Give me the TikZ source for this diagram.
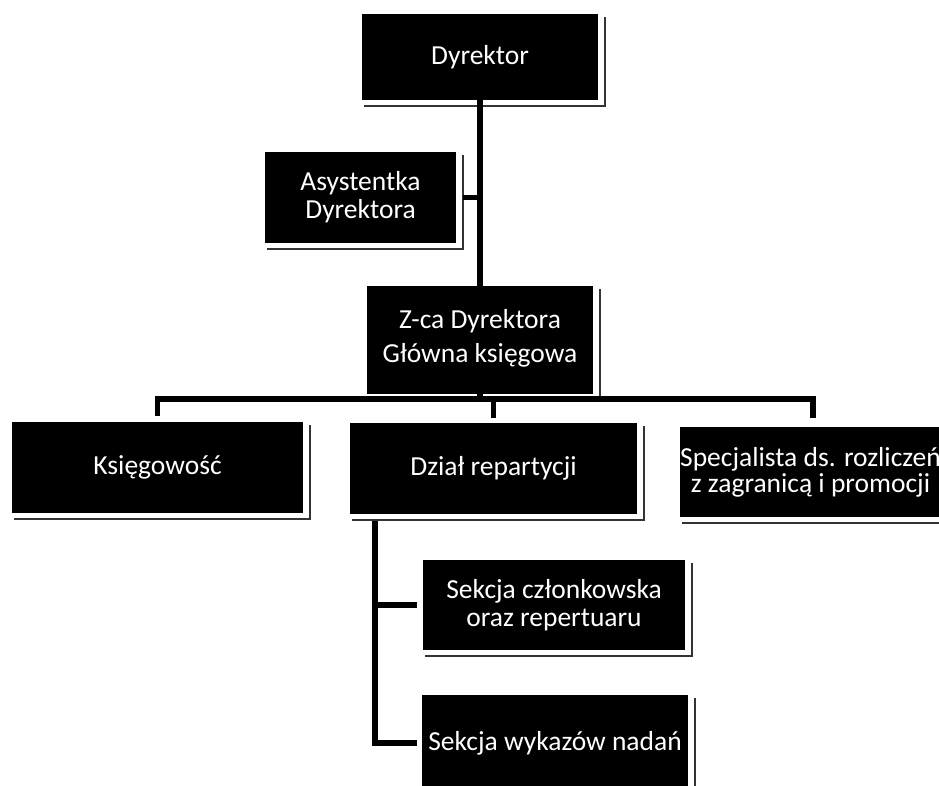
\documentclass[tikz,border=0pt]{standalone}
\usepackage{fontspec}
\setmainfont{Carlito}
\newcommand\myOrgFrame[1]{\draw[frame] ([xshift=7pt,yshift=-3pt]#1.north east) -- ([xshift=7pt,yshift=-6pt]#1.south east) -- ([xshift=2pt,yshift=-6pt]#1.south west);}
\begin{document}
\begin{tikzpicture}[x=1pt,y=-1pt,
  box/.style={rectangle, fill=black, text=white, inner sep=0pt, align=center,
    font=\fontsize{27.5}{28}\selectfont},
  frame/.style={draw=black!80, line width=1.6pt},
  conn/.style={draw=black, line width=5.5pt}]
\fill[white] (0,0) rectangle (939,786);
\useasboundingbox (0,0) rectangle (939,786);

\node[box,minimum width=236pt,minimum height=86pt] (dyr) at (480,57) {\raisebox{-4pt}{Dyrektor}};
\node[box,minimum width=191pt,minimum height=91pt] (asy) at (360.5,197.5) {Asystentka\\Dyrektora};
\node[box,minimum width=226pt,minimum height=108pt] (zca) at (480,340) {\raisebox{8pt}{\begin{tabular}{@{}c@{}}Z-ca Dyrektora\\[6pt]Główna księgowa\end{tabular}}};
\node[box,minimum width=291pt,minimum height=91pt] (ksi) at (157.5,467.5) {Księgowość};
\node[box,minimum width=287pt,minimum height=91pt] (dzi) at (493.5,468.5) {Dział repartycji};
\node[box,minimum width=257pt,minimum height=90pt] (spe) at (810.5,472) {Specjalista ds. rozliczeń\\[-2pt]z zagranicą i promocji};
\node[box,minimum width=262pt,minimum height=90pt] (sc1) at (554,605) {Sekcja członkowska\\oraz repertuaru};
\node[box,minimum width=266pt,minimum height=96pt] (sc2) at (555,743) {Sekcja wykazów nadań};

\myOrgFrame{dyr}
\myOrgFrame{asy}
\myOrgFrame{zca}
\myOrgFrame{ksi}
\myOrgFrame{dzi}
\myOrgFrame{sc1}
\myOrgFrame{sc2}
\draw[frame] ([yshift=-6pt]spe.south east) -- ([xshift=2pt,yshift=-6pt]spe.south west);

\coordinate (busy) at (0,399);
\coordinate (dvx) at (375,0);
\coordinate (rdx) at (813,0);

% trunk
\draw[conn] (dyr.south) -- (zca.north);
\draw[conn] ([xshift=7pt]asy.east) -- (asy.east -| dyr.south);
\draw[conn] (zca.south) -- (zca.south |- busy);
% bus
\draw[conn] ([yshift=6pt]ksi.north) -- (ksi.north |- busy) -- (rdx |- busy) -- ([yshift=9pt]spe.north -| rdx);
\draw[conn] (dzi.north |- busy) -- ([yshift=5pt]dzi.north);
% sections
\draw[conn] ([yshift=-7pt]dzi.south -| dvx) -- (sc2.west -| dvx) -- ([xshift=-5pt]sc2.west);
\draw[conn] (sc1.west -| dvx) -- ([xshift=-6pt]sc1.west);
\end{tikzpicture}
\end{document}
